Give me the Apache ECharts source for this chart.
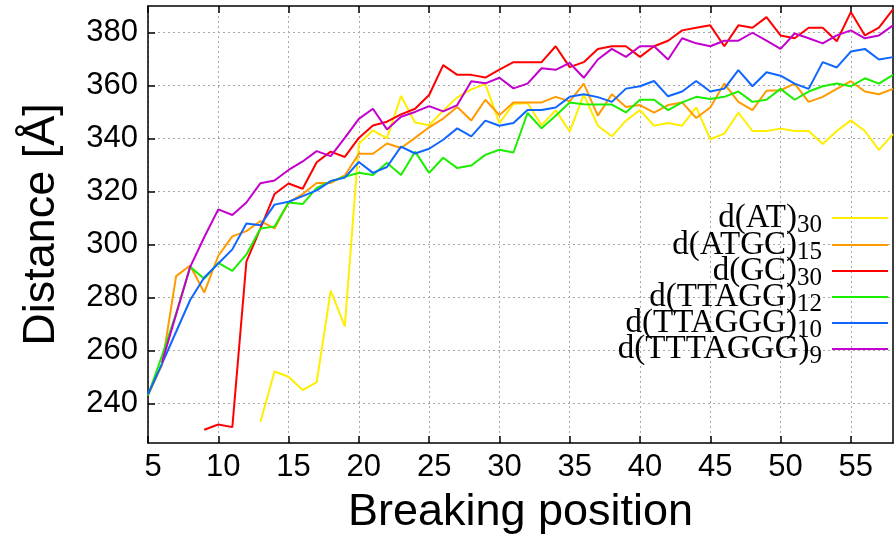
<!DOCTYPE html>
<html>
<head>
<meta charset="utf-8">
<script src="https://cdn.jsdelivr.net/npm/echarts@6/dist/echarts.min.js"></script>
<style>
html,body{margin:0;padding:0;background:#fff;}
#chart{width:894px;height:542px;}
</style>
</head>
<body>
<div id="chart"></div>
<script>
const positions = [5,6,7,8,9,10,11,12,13,14,15,16,17,18,19,20,21,22,23,24,25,26,27,28,29,30,31,32,33,34,35,36,37,38,39,40,41,42,43,44,45,46,47,48,49,50,51,52,53,54,55,56,57,58];

const dAT = [null,null,null,null,null,null,null,null,233,252,250,245,248,282.5,269,338,343,340,356,346,345,350.5,355.5,358.5,360.5,345.8,353,353.4,345,350.6,342.6,356.5,344.8,340.8,346.7,350.7,344.8,345.8,344.8,351.7,339.7,341.8,349.7,342.8,342.8,343.7,342.8,342.8,337.9,342.8,346.8,342.8,335.7,341.6];
const dATGC = [243,254.5,288,292,281.8,295.7,303,305,308.8,306,315.8,319,323.2,323.2,326,334.2,334.2,338.1,336.4,340.2,344.2,347.5,351.9,346.8,354.6,348.8,353.6,353.6,353.6,355.7,354,360.7,348.6,356.7,351.9,352.6,349.7,352.6,353.6,347.7,351.7,360.7,353.8,350.7,358,358.2,360.7,353.8,355.7,358.7,361.6,357.7,356.7,358.7];
const dGC = [null,null,null,null,230,232,231,293.5,306,319,323,321,331,335,333,340.2,344.9,346.3,349.1,351.2,356.4,367.7,364,364,363,366,368.8,368.8,368.8,374.8,366.9,368.8,373.8,374.8,374.8,370.8,374.8,376.9,380.8,381.8,382.7,374.8,382.7,381.8,385.8,378.9,377.8,381.8,381.8,376.7,387.7,378.9,381.8,388.7];
const dTTAGG = [243,258,274,291.5,287,293,290,296.2,306,306.7,315.8,315.2,321.3,323.8,325.5,327,326.2,330.8,326.2,335,327,332.7,328.8,329.8,333.8,335.7,334.7,349.6,343.8,348.6,353.6,352.9,352.8,352.8,349.8,354.6,354.6,350.7,353.6,355.7,354.9,355.7,357.7,353.8,354.6,358.7,354.6,357.7,359.7,360.7,359.7,362.7,360.7,364];
const dTTAGGG = [243.3,255,267,279,287.5,292.8,298.1,307.9,307.2,315,316.1,318.2,320.4,323.9,325.2,331.1,327,329.2,336.9,334.3,336.1,339.5,343.8,340.8,346.7,344.8,345.8,350.7,350.7,351.7,355.7,356.7,355.6,353.8,358.8,359.7,361.7,355.9,357.7,361.7,357.7,358.8,365.8,359.7,365,363.7,360.7,358.7,368.8,366.8,372.8,373.8,369.8,370.7];
const dTTTAGGG = [null,255.5,273.5,291.5,302.7,313.2,311.1,315.8,323.1,324.1,328.1,331.3,335.2,333.3,340.2,347.4,351.2,343.4,348.2,350,352.2,350.2,352.6,361.6,360.8,362.9,358.9,360.7,366.5,365.9,368.5,362.9,369.8,373.8,370.8,374.8,374.8,369.8,377.8,375.9,374.8,376.9,376.9,379.9,376.9,373.8,379.6,377.8,375.9,378.9,380.8,377.8,378.9,382.7];

const seriesNames = ['d(AT)30','d(ATGC)15','d(GC)30','d(TTAGG)12','d(TTAGGG)10','d(TTTAGGG)9'];
const legendMain = ['d(AT)','d(ATGC)','d(GC)','d(TTAGG)','d(TTAGGG)','d(TTTAGGG)'];
const legendSub = ['30','15','30','12','10','9'];
const seriesValues = [dAT, dATGC, dGC, dTTAGG, dTTAGGG, dTTTAGGG];
const seriesColors = ['#ffee00','#ff9a00','#ff0000','#1cee00','#0f66ff','#c400cc'];

const xTicks = [5,10,15,20,25,30,35,40,45,50,55];
const yTicks = [240,260,280,300,320,340,360,380];

const chart = echarts.init(document.getElementById('chart'), null, {renderer:'canvas'});

const series = seriesValues.map((vals, i) => ({
  name: seriesNames[i],
  type: 'line',
  xAxisIndex: 0,
  yAxisIndex: 0,
  showSymbol: false,
  symbol: 'none',
  connectNulls: false,
  animation: false,
  color: seriesColors[i],
  lineStyle: {width: 2, color: seriesColors[i]},
  data: positions.map((p, j) => [p, vals[j]])
}));

const legendTops = [201.5, 228.5, 254.5, 280.5, 306.5, 332.5];
const legends = seriesNames.map((n, i) => ({
  data: [n],
  right: 6,
  top: legendTops[i],
  orient: 'vertical',
  align: 'right',
  padding: 0,
  icon: 'rect',
  itemWidth: 56,
  itemHeight: 2,
  selectedMode: false,
  formatter: function(name){
    const k = seriesNames.indexOf(name);
    return '{m|' + legendMain[k] + '}{s|' + legendSub[k] + '}';
  },
  textStyle: {
    fontFamily: 'Liberation Serif',
    color: '#000',
    rich: {
      m: {fontFamily: 'Liberation Serif', fontSize: 33, color: '#000'},
      s: {fontFamily: 'Liberation Serif', fontSize: 25, color: '#000', padding: [14,5,0,0]}
    }
  }
}));

const gridLine = {show: true, lineStyle: {color: '#a8a8a8', width: 1, type: [2, 3]}};

chart.setOption({
  animation: false,
  backgroundColor: '#fff',
  grid: {left: 148, right: 1, top: 6, bottom: 99, containLabel: false},
  legend: legends,
  xAxis: [{
    type: 'value', min: 5, max: 58,
    name: 'Breaking position', nameLocation: 'middle', nameGap: 47,
    nameTextStyle: {fontFamily: 'Liberation Sans', fontSize: 45, color: '#000'},
    axisLine: {show: true, onZero: false, lineStyle: {color: '#000', width: 1.5}},
    axisTick: {show: true, inside: true, length: 7, lineStyle: {color: '#000', width: 1.5}, customValues: xTicks},
    axisLabel: {customValues: xTicks, fontFamily: 'Liberation Sans', fontSize: 31, color: '#000', margin: 9, padding: [0,0,0,10]},
    splitLine: gridLine
  }, {
    type: 'value', min: 5, max: 58, position: 'top',
    axisLine: {show: true, onZero: false, lineStyle: {color: '#000', width: 1.5}},
    axisTick: {show: true, inside: true, length: 7, lineStyle: {color: '#000', width: 1.5}, customValues: xTicks},
    axisLabel: {show: false, customValues: xTicks},
    splitLine: {show: false}
  }],
  yAxis: [{
    type: 'value', min: 225, max: 390,
    name: 'Distance [Å]', nameLocation: 'middle', nameGap: 84,
    nameTextStyle: {fontFamily: 'Liberation Sans', fontSize: 45, color: '#000'},
    axisLine: {show: true, onZero: false, lineStyle: {color: '#000', width: 1.5}},
    axisTick: {show: true, inside: true, length: 7, lineStyle: {color: '#000', width: 1.5}, customValues: yTicks},
    axisLabel: {customValues: yTicks, fontFamily: 'Liberation Sans', fontSize: 31, color: '#000', margin: 10},
    splitLine: gridLine
  }, {
    type: 'value', min: 225, max: 390, position: 'right',
    axisLine: {show: true, onZero: false, lineStyle: {color: '#000', width: 1.5}},
    axisTick: {show: false},
    axisLabel: {show: false},
    splitLine: {show: false}
  }],
  series: series
});
</script>
</body>
</html>
